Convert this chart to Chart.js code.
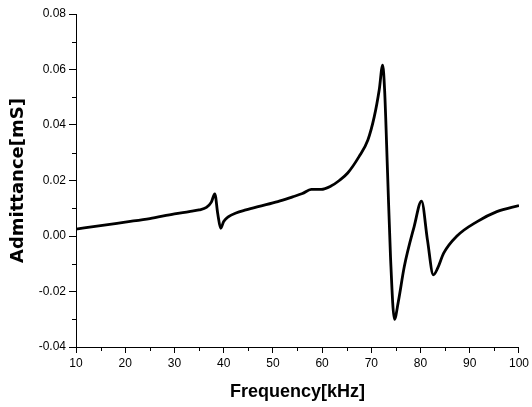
<!DOCTYPE html>
<html><head><meta charset="utf-8">
<script src="https://cdn.jsdelivr.net/npm/chart.js@4/dist/chart.umd.min.js"></script>
<style>html,body{margin:0;padding:0;background:#fff}#wrap{width:532px;height:407px;position:relative}</style>
</head><body><div id="wrap"><canvas id="c"></canvas></div>
<script>
const frequency = [10, 15, 20, 25, 30, 33, 35, 36.5, 37.5, 38.2, 38.8, 39.4, 40, 41, 42.5, 44.5, 47, 51, 54, 56, 57.8, 59.8, 61.8, 63.5, 65.2, 67.5, 69.3, 70.6, 71.6, 72.3, 72.7, 73.3, 73.9, 74.7, 75.5, 76.7, 78.7, 80.2, 81.4, 82.6, 83.5, 84.7, 87.4, 91.5, 95.5, 100];
const admittance = [0.0025, 0.0037, 0.0050, 0.0063, 0.0080, 0.0088, 0.0094, 0.0103, 0.0122, 0.0152, 0.0080, 0.0028, 0.0052, 0.0070, 0.0083, 0.0094, 0.0106, 0.0124, 0.0141, 0.0153, 0.0168, 0.0168, 0.0180, 0.0200, 0.0227, 0.0286, 0.0346, 0.0430, 0.0526, 0.0616, 0.0526, 0.0227, -0.0076, -0.0300, -0.0235, -0.0110, 0.0034, 0.0126, -0.0014, -0.0140, -0.0115, -0.0062, 0.0000, 0.0052, 0.0088, 0.0110];
const xTicks = [10, 20, 30, 40, 50, 60, 70, 80, 90, 100];
const yTicks = [-0.04, -0.02, 0.00, 0.02, 0.04, 0.06, 0.08];
const xMinor = [15, 25, 35, 45, 55, 65, 75, 85, 95];
const yMinor = [-0.03, -0.01, 0.01, 0.03, 0.05, 0.07];

const points = frequency.map((f, i) => ({x: f, y: admittance[i]}));
const FONT = "'Liberation Sans', Arial, sans-serif";
const FONT_Y = "'DejaVu Sans', sans-serif";

const minorTicks = {
  id: 'minorTicks',
  afterDraw(chart) {
    const ctx = chart.ctx, xs = chart.scales.x, ys = chart.scales.y;
    ctx.save();
    ctx.strokeStyle = '#000';
    ctx.lineWidth = 1;
    ctx.beginPath();
    xMinor.forEach(v => { const p = Math.round(xs.getPixelForValue(v)) + 0.5; ctx.moveTo(p, xs.top); ctx.lineTo(p, xs.top + 4); });
    yMinor.forEach(v => { const p = Math.round(ys.getPixelForValue(v)) + 0.5; ctx.moveTo(ys.right, p); ctx.lineTo(ys.right - 4, p); });
    ctx.stroke();
    ctx.restore();
  }
};

new Chart(document.getElementById('c'), {
  type: 'line',
  data: { datasets: [{ data: points, borderColor: '#000', borderWidth: 2.8, pointRadius: 0, fill: false, cubicInterpolationMode: 'monotone' }] },
  options: {
    responsive: true, maintainAspectRatio: false, animation: false,
    layout: { padding: { top: 14, right: 11, bottom: 0, left: 0 } },
    plugins: { legend: { display: false }, tooltip: { enabled: false } },
    scales: {
      x: {
        type: 'linear', min: 10, max: 100,
        afterBuildTicks: s => { s.ticks = xTicks.map(v => ({value: v})); },
        afterFit: s => { s.height = 60; },
        grid: { drawOnChartArea: false, tickLength: 6, color: '#000', tickColor: '#000' },
        border: { display: true, color: '#000', width: 1 },
        ticks: { color: '#000', font: { family: FONT, size: 12 }, padding: 3, maxRotation: 0, autoSkip: false },
        title: { display: true, text: 'Frequency[kHz]', color: '#000', font: { family: FONT, size: 18, weight: 'bold' }, padding: { top: 4, bottom: 4 } }
      },
      y: {
        type: 'linear', min: -0.04, max: 0.08,
        afterBuildTicks: s => { s.ticks = yTicks.map(v => ({value: v})); },
        afterFit: s => { s.width = 76; },
        grid: { drawOnChartArea: false, tickLength: 7, color: '#000', tickColor: '#000' },
        border: { display: true, color: '#000', width: 1 },
        ticks: { color: '#000', font: { family: FONT, size: 12 }, padding: 3, autoSkip: false, callback: v => v.toFixed(2) },
        title: { display: true, text: 'Admittance[mS]', color: '#000', font: { family: FONT_Y, size: 18, weight: 'bold' }, padding: { top: 8, bottom: 4 } }
      }
    }
  },
  plugins: [minorTicks]
});
</script></body></html>
